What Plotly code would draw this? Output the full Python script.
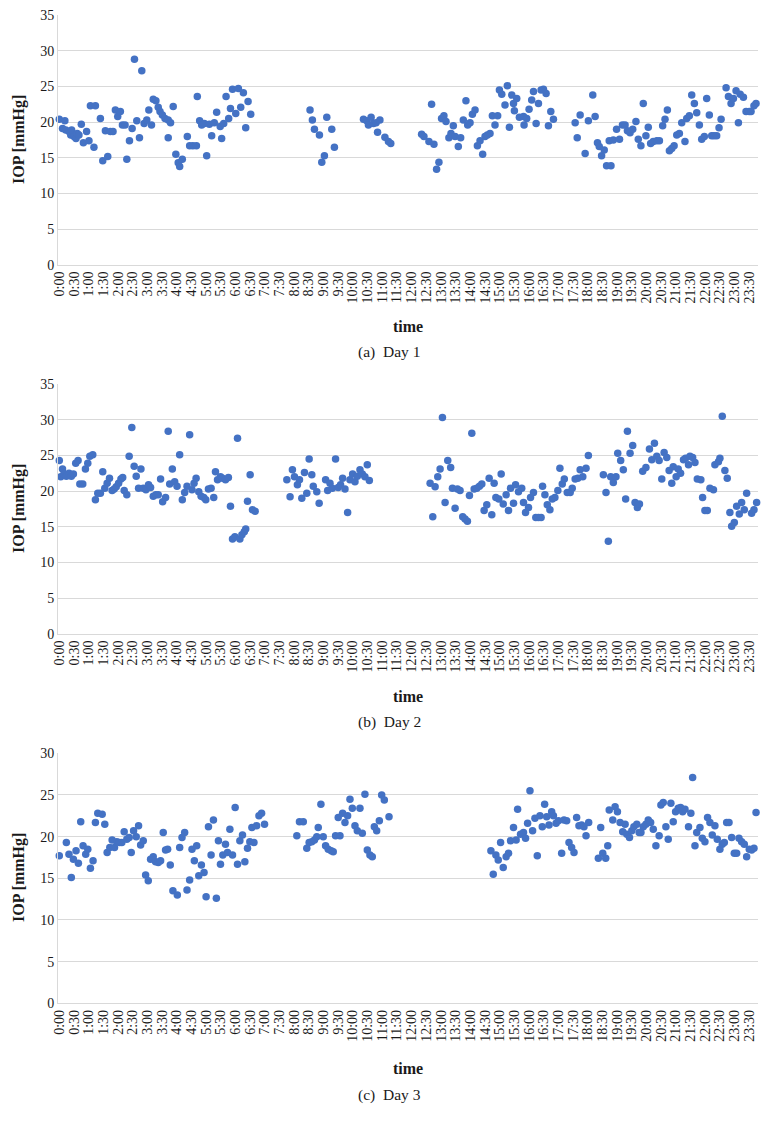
import plotly.graph_objects as go

# ---------------- data (time in decimal hours, IOP in mmHg) ----------------
day1_time = [0.00,0.11,0.19,0.22,0.33,0.39,0.42,0.50,0.57,0.61,
 0.67,0.75,0.82,0.93,1.01,1.06,1.18,1.23,1.40,1.48,
 1.57,1.65,1.74,1.83,1.91,1.99,2.08,2.15,2.24,2.30,
 2.39,2.48,2.56,2.64,2.73,2.81,2.89,2.98,3.05,3.14,
 3.20,3.29,3.37,3.43,3.51,3.60,3.71,3.71,3.79,3.88,
 3.97,4.05,4.10,4.19,4.36,4.44,4.55,4.67,4.70,4.78,
 4.85,4.94,5.02,5.11,5.19,5.28,5.36,5.48,5.53,5.60,
 5.68,5.77,5.83,5.90,6.01,6.10,6.18,6.27,6.35,6.43,
 6.52,
 8.54,8.62,8.69,8.86,8.94,9.03,9.11,9.28,9.37,
 10.36,10.47,10.53,10.62,10.70,10.79,10.84,10.92,11.09,11.21,11.29,
 12.34,12.42,12.59,12.68,12.76,12.85,12.93,13.02,13.10,13.17,
 13.27,13.34,13.42,13.48,13.59,13.67,13.76,13.85,13.91,13.99,
 14.07,14.16,14.24,14.33,14.42,14.50,14.58,14.67,14.75,14.84,
 14.93,14.99,15.07,15.18,15.26,15.33,15.41,15.50,15.58,15.67,
 15.47,15.81,15.83,15.92,16.00,16.09,16.15,
 16.24,16.32,16.41,16.49,16.58,16.66,16.74,16.83,
 17.57,17.64,17.74,17.91,18.02,18.17,18.25,18.33,18.39,18.47,
 18.56,18.64,18.73,18.79,18.87,18.98,19.08,19.18,19.27,19.35,
 19.44,19.53,19.64,19.72,19.81,19.89,19.98,20.06,20.14,20.23,
 20.35,20.44,20.55,20.63,20.71,20.78,20.86,20.94,21.03,21.12,
 21.20,21.31,21.37,21.46,21.54,21.63,21.71,21.80,21.88,21.97,
 22.05,22.14,22.22,22.30,22.39,22.47,22.54,22.71,22.79,22.88,
 22.96,23.05,23.13,23.19,23.30,23.39,23.50,23.56,23.66,23.73]

day1_iop = [20.4,19.1,20.2,18.9,18.7,18.2,18.9,18.0,17.7,18.4,
 18.2,19.7,17.1,18.7,17.4,22.3,16.5,22.3,20.5,14.6,
 18.8,15.2,18.7,18.7,21.7,20.8,21.5,19.6,19.6,14.8,
 17.4,19.1,28.8,20.2,17.8,27.2,19.8,20.3,21.7,19.6,
 23.2,23.0,22.1,21.5,21.0,20.5,20.3,17.8,19.9,22.2,
 15.5,14.3,13.8,14.8,18.0,16.7,16.7,16.7,23.6,20.2,
 19.6,19.8,15.3,19.7,18.1,19.9,21.4,19.4,17.7,19.8,
 23.6,20.5,21.9,24.6,21.2,24.7,22.1,24.1,19.2,22.9,
 21.1,
 21.7,20.3,19.0,18.2,14.4,15.3,20.7,19.0,16.5,
 20.4,20.2,19.6,20.7,19.8,19.9,18.6,20.3,17.9,17.3,17.0,
 18.3,18.0,17.3,22.5,16.9,13.4,14.4,20.5,20.9,20.1,
 17.8,18.4,19.5,18.0,16.6,17.8,20.3,23.0,19.6,19.9,
 21.1,21.7,16.7,17.4,15.5,18.0,18.2,18.4,20.9,19.6,
 20.9,24.5,23.9,22.4,25.1,19.3,23.8,21.6,23.3,20.7,
 22.6,20.8,19.6,20.5,21.8,23.1,24.3,
 19.8,22.6,24.5,24.6,24.0,19.5,21.5,20.4,
 19.9,17.8,21.0,15.6,20.2,23.8,20.8,17.1,16.6,15.3,
 16.1,13.9,17.4,13.9,17.5,19.0,17.6,19.6,19.6,18.8,
 18.5,19.0,20.1,17.6,16.7,22.6,18.1,19.3,17.0,17.3,
 17.4,17.4,19.5,20.4,21.7,16.0,16.3,16.7,18.2,18.4,
 19.9,17.3,20.5,20.9,23.8,22.6,21.3,19.6,17.6,18.0,
 23.3,21.0,18.1,18.1,18.1,19.2,20.4,24.8,23.6,22.6,
 23.3,24.4,19.9,23.9,23.5,21.5,21.5,21.5,22.3,22.6]

day2_time = [0.00,0.05,0.11,0.16,0.24,0.33,0.41,0.48,0.56,0.64,
 0.70,0.80,0.89,0.97,1.04,1.14,1.23,1.31,1.40,1.48,
 1.55,1.63,1.71,1.80,1.87,1.94,2.02,2.10,2.16,2.21,
 2.30,2.38,2.47,2.55,2.62,2.70,2.78,2.86,2.95,3.04,
 3.11,3.20,3.29,3.37,3.45,3.52,3.62,3.71,3.76,3.85,
 3.93,4.01,4.10,4.19,4.27,4.35,4.44,4.52,4.59,4.66,
 4.75,4.83,4.92,4.99,5.08,5.17,5.26,5.32,5.39,5.49,
 5.56,5.66,5.76,5.83,5.90,5.98,6.07,6.15,6.22,6.30,
 6.35,6.41,6.50,6.58,6.67,
 7.75,7.86,7.94,8.01,8.11,8.18,8.26,8.35,8.43,8.51,
 8.60,8.65,8.77,8.85,9.07,9.14,9.22,9.30,9.41,9.50,
 9.58,9.65,9.73,9.82,9.90,9.99,10.07,10.15,10.24,10.32,
 10.41,10.49,10.56,
 12.63,12.72,12.80,12.89,12.97,13.05,13.14,13.23,13.33,13.39,
 13.48,13.56,13.65,13.74,13.82,13.90,13.97,14.05,14.13,14.22,
 14.31,14.39,14.47,14.56,14.64,14.73,14.81,14.87,14.97,15.05,
 15.12,15.22,15.30,15.37,15.47,15.54,15.64,
 15.75,15.81,15.88,15.98,16.05,16.15,16.23,16.32,
 16.41,16.46,16.54,16.62,16.71,16.79,16.88,16.98,17.05,17.13,
 17.20,17.30,17.40,17.47,17.57,17.66,17.74,17.83,17.94,18.02,
 18.53,18.62,18.70,18.78,18.87,18.96,19.02,19.12,19.21,19.29,
 19.35,19.44,19.53,19.61,19.69,19.76,19.87,19.98,20.10,20.18,
 20.27,20.35,20.43,20.52,20.60,20.69,20.77,20.86,20.91,21.01,
 21.08,21.16,21.26,21.33,21.43,21.48,21.57,21.65,21.73,21.85,
 21.91,21.99,22.07,22.16,22.28,22.33,22.45,22.50,22.58,22.67,
 22.75,22.84,22.90,22.99,23.07,23.16,23.24,23.33,23.41,23.58,
 23.66,23.75]

day2_iop = [24.3,22.0,23.1,22.4,22.1,22.5,22.1,22.4,23.9,24.3,
 21.0,21.0,23.1,23.9,24.9,25.1,18.8,19.7,19.7,22.7,
 20.4,21.1,21.8,20.1,20.3,20.6,21.1,21.7,21.9,20.1,
 19.5,24.9,28.9,23.5,22.1,20.4,23.1,20.4,20.2,20.9,
 20.5,19.3,19.5,19.5,21.7,18.5,19.1,28.4,21.0,23.1,
 21.3,20.7,25.1,18.8,19.8,20.7,27.9,20.2,21.1,21.8,
 19.9,19.3,19.1,18.8,20.3,20.4,19.1,22.7,21.6,22.0,
 21.8,21.6,21.9,17.9,13.3,13.6,27.4,13.3,13.9,14.3,
 14.7,18.6,22.3,17.4,17.2,
 21.6,19.2,23.0,22.0,20.9,21.6,19.0,22.6,19.7,24.5,
 22.3,20.7,19.9,18.3,21.6,20.1,21.1,20.4,24.5,20.5,
 20.9,21.8,20.3,17.0,21.6,22.4,21.3,22.1,23.0,22.4,
 22.0,23.7,21.5,
 21.1,16.4,20.6,22.0,23.1,30.3,18.4,24.3,23.3,20.4,
 17.6,20.3,20.1,16.4,16.1,15.8,19.4,28.1,20.3,20.4,
 20.7,21.0,17.3,18.1,21.8,16.7,21.1,19.1,18.9,22.4,
 18.2,19.5,17.3,20.4,18.3,20.9,19.9,
 20.4,18.4,17.0,17.7,19.1,19.8,16.3,16.3,
 16.3,20.7,19.5,18.1,17.4,18.9,19.1,20.1,23.2,21.0,
 21.7,19.8,19.8,20.4,21.7,21.8,23.0,22.0,23.2,25.0,
 22.3,19.8,13.0,22.0,21.2,22.0,25.3,24.3,23.0,18.9,
 28.4,25.3,26.4,18.4,17.7,18.2,22.8,23.3,25.9,24.4,
 26.7,24.9,24.3,21.7,25.4,24.7,22.9,21.1,23.4,22.0,
 23.1,22.5,24.4,24.6,23.7,24.9,24.7,24.0,21.7,21.6,
 19.1,17.3,17.3,20.4,20.2,23.7,24.1,24.6,30.5,22.9,
 21.8,17.0,15.1,15.6,17.9,16.8,18.4,17.4,19.7,16.9,
 17.4,18.4]

day3_time = [0.00,0.24,0.33,0.41,0.48,0.57,0.65,0.73,0.81,0.90,
 0.97,1.06,1.15,1.23,1.31,1.46,1.55,1.63,1.72,1.80,
 1.88,1.96,2.05,2.13,2.21,2.30,2.38,2.45,2.53,2.62,
 2.70,2.77,2.86,2.94,3.03,3.11,3.20,3.28,3.37,3.45,
 3.54,3.62,3.69,3.78,3.87,4.02,4.10,4.18,4.27,4.35,
 4.44,4.52,4.60,4.68,4.75,4.84,4.93,5.00,5.08,5.17,
 5.25,5.35,5.42,5.49,5.57,5.66,5.73,5.81,5.90,5.99,
 6.07,6.15,6.24,6.32,6.41,6.49,6.56,6.63,6.72,6.80,
 6.89,6.99,
 8.09,8.18,8.31,8.43,8.51,8.60,8.69,8.77,8.82,8.91,
 8.99,9.07,9.16,9.26,9.33,9.41,9.50,9.56,9.65,9.73,
 9.82,9.90,9.98,10.07,10.15,10.24,10.32,10.41,10.49,10.58,
 10.66,10.73,10.81,10.90,10.98,11.07,11.23,
 14.70,14.78,14.87,14.95,15.03,15.12,15.22,15.30,15.37,15.47,
 15.56,15.61,
 15.71,15.81,15.88,15.95,16.03,16.12,
 16.20,16.28,16.37,16.45,16.53,16.60,16.68,16.77,16.83,16.92,
 17.00,17.11,17.19,17.28,17.36,17.45,17.53,17.62,17.70,17.79,
 17.87,17.94,18.03,18.36,18.44,18.51,18.61,18.68,18.73,18.85,
 18.93,19.01,19.10,19.19,19.27,19.33,19.42,19.50,19.57,19.67,
 19.75,19.81,19.89,19.98,20.06,20.14,20.23,20.32,20.43,20.49,
 20.57,20.66,20.74,20.83,20.91,20.99,21.08,21.16,21.23,21.31,
 21.43,21.51,21.57,21.65,21.71,21.82,21.90,21.99,22.08,22.16,
 22.24,22.33,22.41,22.50,22.58,22.65,22.73,22.81,22.90,22.99,
 23.07,23.15,23.24,23.33,23.41,23.50,23.58,23.66,23.73]

day3_iop = [17.7,19.3,17.9,15.1,17.3,18.3,16.8,21.8,18.9,17.9,
 18.5,16.2,17.1,21.7,22.8,22.7,21.5,18.1,18.7,19.6,
 18.7,19.4,19.3,19.3,20.6,19.7,19.9,18.1,20.7,20.0,
 21.3,19.0,19.5,15.4,14.7,17.3,17.6,17.0,16.9,17.1,
 20.5,18.4,18.5,16.6,13.5,13.0,18.7,19.9,20.5,13.6,
 14.8,18.5,17.1,18.9,15.3,16.6,15.7,12.8,21.2,17.8,
 22.0,12.6,19.5,16.7,17.8,19.1,18.1,20.9,17.8,23.5,
 16.7,19.5,20.2,17.0,18.6,19.4,21.1,19.3,21.3,22.5,
 22.8,21.5,
 20.1,21.8,21.8,18.6,19.3,19.4,19.6,20.0,21.1,23.9,
 20.0,18.9,18.5,18.3,18.2,20.1,22.3,20.1,22.8,21.7,
 22.5,24.5,23.4,21.3,20.7,23.4,20.4,25.1,18.4,17.8,
 17.6,21.2,20.7,21.9,25.0,24.4,22.4,
 18.3,15.5,17.8,17.2,19.3,16.3,17.6,18.0,19.5,21.1,
 19.6,23.3,
 20.3,20.5,19.8,21.6,25.5,20.7,
 22.2,17.7,22.5,21.2,23.9,22.4,21.4,23.0,22.5,21.6,
 21.9,18.0,22.0,21.9,19.3,18.7,18.1,22.3,21.3,21.4,
 21.2,20.1,21.7,17.4,21.1,18.0,17.4,18.9,23.2,22.0,
 23.6,23.0,21.7,20.6,21.5,20.3,19.9,20.7,21.2,21.5,
 20.5,20.5,21.2,21.5,22.0,21.7,20.9,18.9,20.1,23.8,
 24.1,21.2,19.7,24.0,21.8,23.0,23.4,23.5,23.0,23.3,
 21.2,22.8,27.1,18.9,20.5,21.1,19.8,19.4,22.3,21.7,
 20.2,21.3,19.7,18.5,19.1,19.3,21.7,21.7,19.9,18.0,
 18.0,19.8,19.4,19.1,17.6,18.5,18.4,18.6,22.9]

tick_hours = [i * 0.5 for i in range(48)]
tick_labels = [f"{i // 2}:{'00' if i % 2 == 0 else '30'}" for i in range(48)]
captions = ["(a)  Day 1", "(b)  Day 2", "(c)  Day 3"]
y_max = [35, 35, 30]

for t, v in [(day1_time, day1_iop), (day2_time, day2_iop), (day3_time, day3_iop)]:
    assert len(t) == len(v), (len(t), len(v))

# ---------------- layout ----------------
PAGE_W, PAGE_H = 773, 1129
OFF = 8                      # default body margin of the html page
W, H = PAGE_W - OFF, PAGE_H - OFF
FONT = "Liberation Serif"
BLUE = "#4472C4"
GRID = "#d9d9d9"
TXT = "#1a1a1a"

def fy(py):
    return 1 - (py - OFF) / H

def fx(px):
    return (px - OFF) / W

# pixel boxes of plot areas in page pixels (top, bottom)
boxes = [(15, 265), (384, 634), (753.3, 1003.3)]
ytitle_y = [140, 509, 878]
xtitle_y = [327, 696, 1068]
caption_y = [352, 722, 1095]

fig = go.Figure()
data = [(day1_time, day1_iop), (day2_time, day2_iop), (day3_time, day3_iop)]
layout_axes = {}
annotations = []
for i, (t, v) in enumerate(data):
    n = "" if i == 0 else str(i + 1)
    fig.add_trace(go.Scatter(
        x=t, y=v, mode="markers", xaxis="x" + n, yaxis="y" + n,
        marker=dict(color=BLUE, size=7.5, line=dict(width=0)),
        showlegend=False, cliponaxis=False, hoverinfo="x+y"))
    top, bot = boxes[i]
    layout_axes["xaxis" + n] = dict(
        domain=[fx(58), fx(757.7)], range=[-0.044, 23.787], anchor="y" + n,
        tickmode="array", tickvals=tick_hours, ticktext=tick_labels,
        tickangle=-90, tickfont=dict(family=FONT, size=14, color=TXT),
        showgrid=False, zeroline=False, showline=True, linecolor=GRID,
        linewidth=1, ticks="", automargin=False, fixedrange=True,
        ticklabeloverflow="allow")
    layout_axes["yaxis" + n] = dict(
        domain=[fy(bot), fy(top)], range=[0, y_max[i]], anchor="x" + n,
        tickmode="array", tickvals=list(range(0, y_max[i] + 1, 5)),
        showgrid=True, gridcolor=GRID, gridwidth=1,
        zeroline=False, showline=True, linecolor=GRID, linewidth=1,
        ticks="", tickfont=dict(family=FONT, size=14, color=TXT),
        automargin=False, fixedrange=True, ticklabeloverflow="allow")
    annotations.append(dict(
        text="<b>IOP [mmHg]</b>", textangle=-90, x=fx(19), y=fy(ytitle_y[i]),
        xref="paper", yref="paper", showarrow=False,
        font=dict(family=FONT, size=16, color=TXT),
        xanchor="center", yanchor="middle"))
    annotations.append(dict(
        text="<b>time</b>", x=fx(408), y=fy(xtitle_y[i]),
        xref="paper", yref="paper", showarrow=False,
        font=dict(family=FONT, size=16, color=TXT),
        xanchor="center", yanchor="middle"))
    annotations.append(dict(
        text=captions[i], x=fx(389), y=fy(caption_y[i]),
        xref="paper", yref="paper", showarrow=False,
        font=dict(family=FONT, size=15.5, color=TXT),
        xanchor="center", yanchor="middle"))

fig.update_layout(
    template="none",
    width=W, height=H, margin=dict(l=0, r=0, t=0, b=0, autoexpand=False),
    paper_bgcolor="white", plot_bgcolor="white",
    annotations=annotations, **layout_axes)

fig.write_html("out.html", include_plotlyjs=True, config={"displayModeBar": False})
